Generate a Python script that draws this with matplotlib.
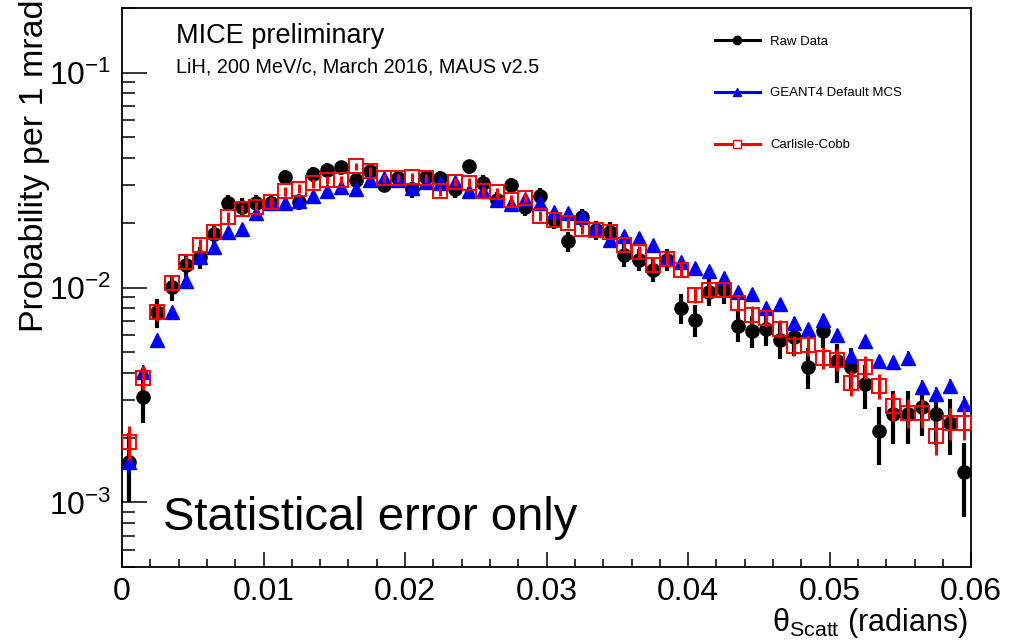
import numpy as np
import matplotlib
matplotlib.use("Agg")
import matplotlib.pyplot as plt
from matplotlib.lines import Line2D
from matplotlib.ticker import MultipleLocator, LogLocator, NullFormatter

plt.rcParams['font.family'] = ['Liberation Sans', 'DejaVu Sans']
plt.rcParams['mathtext.fontset'] = 'custom'
plt.rcParams['mathtext.rm'] = 'Liberation Sans'
plt.rcParams['mathtext.it'] = 'Liberation Sans:italic'
plt.rcParams['mathtext.bf'] = 'Liberation Sans:bold'

# 60 bins of 1 mrad, values at bin centres
theta = (np.arange(60) + 0.5) / 1000.0

raw_data = [1.55e-3, 3.11e-3, 7.66e-3, 1.01e-2, 1.28e-2, 1.38e-2, 1.77e-2, 2.48e-2, 2.38e-2, 2.48e-2,
            2.48e-2, 3.28e-2, 2.51e-2, 3.36e-2, 3.54e-2, 3.62e-2, 3.18e-2, 3.47e-2, 3.01e-2, 3.25e-2,
            2.86e-2, 3.28e-2, 3.25e-2, 2.86e-2, 3.66e-2, 3.08e-2, 2.56e-2, 3.01e-2, 2.38e-2, 2.68e-2,
            2.07e-2, 1.64e-2, 2.12e-2, 1.86e-2, 1.82e-2, 1.42e-2, 1.35e-2, 1.21e-2, 1.35e-2, 8.07e-3,
            7.10e-3, 9.57e-3, 9.79e-3, 6.65e-3, 6.31e-3, 6.44e-3, 5.73e-3, 5.91e-3, 4.29e-3, 6.31e-3,
            4.53e-3, 4.29e-3, 3.54e-3, 2.14e-3, 2.59e-3, 2.59e-3, 2.77e-3, 2.57e-3, 2.35e-3, 1.38e-3]
raw_err = [5.5e-4, 7.8e-4, 1.2e-3, 1.4e-3, 1.6e-3, 1.6e-3, 1.9e-3, 2.2e-3, 2.2e-3, 2.2e-3,
           2.2e-3, 2.5e-3, 2.2e-3, 2.6e-3, 2.6e-3, 2.7e-3, 2.5e-3, 2.6e-3, 2.4e-3, 2.5e-3,
           2.4e-3, 2.5e-3, 2.5e-3, 2.4e-3, 2.7e-3, 2.5e-3, 2.2e-3, 2.4e-3, 2.2e-3, 2.3e-3,
           2.0e-3, 1.8e-3, 2.0e-3, 1.9e-3, 1.9e-3, 1.7e-3, 1.6e-3, 1.5e-3, 1.6e-3, 1.3e-3,
           1.2e-3, 1.4e-3, 1.4e-3, 1.1e-3, 1.1e-3, 1.1e-3, 1.1e-3, 1.1e-3, 9.2e-4, 1.1e-3,
           9.4e-4, 9.2e-4, 8.3e-4, 6.5e-4, 7.1e-4, 7.1e-4, 7.4e-4, 7.1e-4, 6.8e-4, 5.2e-4]

geant4 = [1.55e-3, 4.03e-3, 5.73e-3, 7.73e-3, 1.07e-2, 1.38e-2, 1.55e-2, 1.82e-2, 1.88e-2, 2.23e-2,
          2.48e-2, 2.48e-2, 2.53e-2, 2.68e-2, 2.80e-2, 2.95e-2, 2.89e-2, 3.18e-2, 3.25e-2, 3.18e-2,
          2.92e-2, 3.11e-2, 3.08e-2, 3.11e-2, 2.80e-2, 2.80e-2, 2.56e-2, 2.45e-2, 2.58e-2, 2.48e-2,
          2.25e-2, 2.23e-2, 2.14e-2, 1.90e-2, 1.67e-2, 1.73e-2, 1.70e-2, 1.58e-2, 1.36e-2, 1.31e-2,
          1.23e-2, 1.19e-2, 1.11e-2, 9.57e-3, 9.36e-3, 8.07e-3, 8.34e-3, 6.87e-3, 6.38e-3, 7.10e-3,
          6.04e-3, 4.78e-3, 5.61e-3, 4.53e-3, 4.48e-3, 4.72e-3, 3.43e-3, 3.18e-3, 3.47e-3, 2.86e-3]
geant4_err = [2.0e-4, 3.2e-4, 3.8e-4, 4.4e-4, 5.2e-4, 5.9e-4, 6.2e-4, 6.7e-4, 6.9e-4, 7.5e-4,
              7.9e-4, 7.9e-4, 8.0e-4, 8.2e-4, 8.4e-4, 8.6e-4, 8.5e-4, 8.9e-4, 9.0e-4, 8.9e-4,
              8.5e-4, 8.8e-4, 8.8e-4, 8.8e-4, 8.4e-4, 8.4e-4, 8.0e-4, 7.8e-4, 8.0e-4, 7.9e-4,
              7.5e-4, 7.5e-4, 7.3e-4, 6.9e-4, 6.5e-4, 6.6e-4, 6.5e-4, 6.3e-4, 5.8e-4, 5.7e-4,
              5.5e-4, 5.5e-4, 5.3e-4, 4.9e-4, 4.8e-4, 4.5e-4, 4.6e-4, 4.1e-4, 4.0e-4, 4.2e-4,
              3.9e-4, 3.5e-4, 3.7e-4, 3.4e-4, 3.3e-4, 3.4e-4, 2.9e-4, 2.8e-4, 2.9e-4, 2.7e-4]

carlisle_cobb = [1.92e-3, 3.81e-3, 7.66e-3, 1.05e-2, 1.31e-2, 1.58e-2, 1.82e-2, 2.12e-2, 2.31e-2, 2.38e-2,
                 2.51e-2, 2.80e-2, 2.89e-2, 3.05e-2, 3.18e-2, 3.18e-2, 3.66e-2, 3.47e-2, 3.25e-2, 3.25e-2,
                 3.28e-2, 3.25e-2, 2.80e-2, 3.11e-2, 3.08e-2, 2.80e-2, 2.77e-2, 2.56e-2, 2.62e-2, 2.16e-2,
                 2.07e-2, 2.00e-2, 1.88e-2, 1.86e-2, 1.82e-2, 1.57e-2, 1.46e-2, 1.28e-2, 1.36e-2, 1.21e-2,
                 9.27e-3, 9.79e-3, 9.79e-3, 8.51e-3, 7.48e-3, 7.25e-3, 6.44e-3, 5.37e-3, 5.41e-3, 4.72e-3,
                 4.62e-3, 3.61e-3, 4.29e-3, 3.50e-3, 2.82e-3, 2.62e-3, 2.62e-3, 2.03e-3, 2.35e-3, 2.35e-3]
carlisle_cobb_err = [3.5e-4, 4.9e-4, 7.0e-4, 8.2e-4, 9.2e-4, 1.0e-3, 1.1e-3, 1.2e-3, 1.2e-3, 1.2e-3,
                     1.3e-3, 1.3e-3, 1.4e-3, 1.4e-3, 1.4e-3, 1.4e-3, 1.5e-3, 1.5e-3, 1.4e-3, 1.4e-3,
                     1.4e-3, 1.4e-3, 1.3e-3, 1.4e-3, 1.4e-3, 1.3e-3, 1.3e-3, 1.3e-3, 1.3e-3, 1.2e-3,
                     1.2e-3, 1.1e-3, 1.1e-3, 1.1e-3, 1.1e-3, 1.0e-3, 9.7e-4, 9.1e-4, 9.3e-4, 8.8e-4,
                     7.7e-4, 7.9e-4, 7.9e-4, 7.4e-4, 6.9e-4, 6.8e-4, 6.4e-4, 5.9e-4, 5.9e-4, 5.5e-4,
                     5.4e-4, 4.8e-4, 5.2e-4, 4.7e-4, 4.2e-4, 4.1e-4, 4.1e-4, 3.6e-4, 3.9e-4, 3.9e-4]

x_ticks = [0, 0.01, 0.02, 0.03, 0.04, 0.05, 0.06]
x_tick_labels = ['0', '0.01', '0.02', '0.03', '0.04', '0.05', '0.06']
labels = ['Raw Data', 'GEANT4 Default MCS', 'Carlisle-Cobb']

fig = plt.figure(figsize=(10.17, 6.43), dpi=100)
ax = fig.add_axes([0.120, 0.118, 0.835, 0.8696])

ax.errorbar(theta, raw_data, yerr=raw_err, fmt='o', color='black', ms=9.5,
            elinewidth=3, capsize=0, zorder=3)
ax.errorbar(theta, geant4, yerr=geant4_err, fmt='^', color='#0000ff', ms=9.5,
            elinewidth=1.5, capsize=0, zorder=4)
ax.errorbar(theta, carlisle_cobb, yerr=carlisle_cobb_err, fmt='s', color='#ff0000',
            mfc='none', mec='#ff0000', mew=1.4, ms=9.5, elinewidth=2.2, capsize=0, zorder=5)

ax.set_yscale('log')
ax.set_xlim(0, 0.06)
ax.set_ylim(5e-4, 0.2)

ax.set_xticks(x_ticks)
ax.set_xticklabels(x_tick_labels)
ax.xaxis.set_minor_locator(MultipleLocator(0.002))
ax.yaxis.set_major_locator(LogLocator(base=10))
ax.yaxis.set_minor_locator(LogLocator(base=10, subs=np.arange(2, 10)))
ax.yaxis.set_minor_formatter(NullFormatter())

ax.tick_params(axis='both', which='both', direction='in', top=False, right=False,
               labelsize=23, width=1.1)
ax.tick_params(axis='y', which='major', length=18, pad=8)
ax.tick_params(axis='y', which='minor', length=9)
ax.tick_params(axis='x', which='major', length=11, pad=7)
ax.tick_params(axis='x', which='minor', length=6)
for sp in ax.spines.values():
    sp.set_linewidth(1.3)

fig.text(0.034, 0.742, 'Probability per 1 mrad', rotation=90, fontsize=24.5,
         ha='center', va='center')
fig.text(0.952, 0.019, r'θ$_{\mathrm{Scatt}}$ (radians)', fontsize=22,
         ha='right', va='baseline')

ax.text(0.0636, 0.937, 'MICE preliminary', transform=ax.transAxes, fontsize=19.5)
ax.text(0.0636, 0.884, 'LiH, 200 MeV/c, March 2016, MAUS v2.5', transform=ax.transAxes,
        fontsize=14.3)
ax.text(0.048, 0.066, 'Statistical error only', transform=ax.transAxes, fontsize=34)

handles = [
    Line2D([], [], color='black', lw=2.2, marker='o', ms=6),
    Line2D([], [], color='#0000ff', lw=2.2, marker='^', ms=6),
    Line2D([], [], color='#ff0000', lw=2.2, marker='s', ms=6, mfc='white', mec='#ff0000'),
]
ax.legend(handles, labels, loc='upper left', bbox_to_anchor=(0.698, 0.951), frameon=False,
          fontsize=9.5, handlelength=3.4, handletextpad=0.8, labelspacing=3.0,
          borderpad=0, borderaxespad=0)

fig.savefig('out.png', dpi=100)
